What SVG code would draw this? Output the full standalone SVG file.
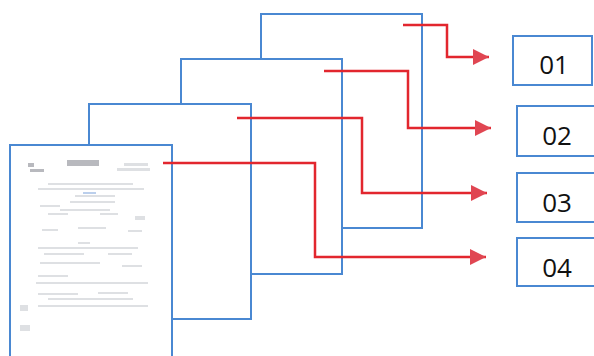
<svg xmlns="http://www.w3.org/2000/svg" width="594" height="356" viewBox="0 0 594 356">
  <defs>
    <style>
      .page { fill: #ffffff; stroke: #4a88d2; stroke-width: 2; }
      .box { fill: #ffffff; stroke: #4a88d2; stroke-width: 2; }
      .conn { fill: none; stroke: #e2262e; stroke-width: 2.5; marker-end: url(#arr); }
      .lbl { font-family: "Open Sans", "Liberation Sans", sans-serif; font-size: 26px; fill: #111111; text-anchor: middle; }
      .ink { fill: #c9ccd2; }
      .ink2 { fill: #8a8c94; }
    </style>
    <marker id="arr" viewBox="0 0 16 16" refX="16" refY="8" markerWidth="16" markerHeight="16" markerUnits="userSpaceOnUse" orient="auto">
      <path d="M0,0 L16,8 L0,16 Z" fill="#e04652"/>
    </marker>
  </defs>

  <g id="page4"><rect class="page" x="261" y="14" width="161" height="214"/></g>
  <g id="page3"><rect class="page" x="181" y="59" width="161" height="215"/></g>
  <g id="page2"><rect class="page" x="89" y="104" width="162" height="215"/></g>
  <g id="page1">
    <rect class="page" x="10" y="145" width="162" height="222"/>
    <g id="page1-content" opacity="0.6">
      <rect class="ink2" x="28" y="163" width="6" height="4"/>
      <rect class="ink2" x="30" y="169" width="14" height="3"/>
      <rect class="ink2" x="67" y="160" width="32" height="6"/>
      <rect class="ink" x="124" y="163" width="24" height="3"/>
      <rect class="ink" x="117" y="168" width="33" height="3"/>
      <rect class="ink" x="48" y="183" width="85" height="2"/>
      <rect class="ink" x="38" y="188" width="106" height="2"/>
      <rect fill="#8fb0e0" x="83" y="192" width="13" height="2"/>
      <rect class="ink" x="75" y="195" width="40" height="2"/>
      <rect class="ink" x="70" y="201" width="45" height="2"/>
      <rect class="ink" x="40" y="205" width="20" height="2"/>
      <rect class="ink" x="60" y="209" width="50" height="2"/>
      <rect class="ink" x="48" y="213" width="20" height="2"/>
      <rect class="ink" x="100" y="213" width="18" height="2"/>
      <rect class="ink" x="135" y="216" width="10" height="4"/>
      <rect class="ink" x="42" y="229" width="16" height="2"/>
      <rect class="ink" x="78" y="227" width="28" height="2"/>
      <rect class="ink" x="128" y="230" width="14" height="2"/>
      <rect class="ink" x="78" y="242" width="12" height="2"/>
      <rect class="ink" x="38" y="247" width="100" height="2"/>
      <rect class="ink" x="44" y="253" width="40" height="2"/>
      <rect class="ink" x="108" y="253" width="24" height="2"/>
      <rect class="ink" x="40" y="262" width="60" height="2"/>
      <rect class="ink" x="122" y="265" width="20" height="2"/>
      <rect class="ink" x="38" y="275" width="30" height="2"/>
      <rect class="ink" x="36" y="282" width="112" height="2"/>
      <rect class="ink" x="38" y="293" width="40" height="2"/>
      <rect class="ink" x="98" y="292" width="30" height="2"/>
      <rect class="ink" x="48" y="298" width="85" height="2"/>
      <rect class="ink" x="38" y="305" width="110" height="2"/>
      <rect class="ink" x="20" y="305" width="8" height="6"/>
      <rect class="ink" x="20" y="325" width="10" height="6"/>
    </g>
  </g>

  <g id="connectors">
    <polyline class="conn" points="403,25 447,25 447,57 489,57"/>
    <polyline class="conn" points="324,71 408,71 408,128 491,128"/>
    <polyline class="conn" points="237,118 362,118 362,193 487,193"/>
    <polyline class="conn" points="163,163 315,163 315,257 486,257"/>
  </g>

  <g id="box01">
    <rect class="box" x="513" y="36" width="79" height="49"/>
    <text class="lbl" x="554" y="74">01</text>
  </g>
  <g id="box02">
    <rect class="box" x="517" y="106" width="90" height="50"/>
    <text class="lbl" x="557" y="145">02</text>
  </g>
  <g id="box03">
    <rect class="box" x="517" y="173" width="90" height="49"/>
    <text class="lbl" x="557" y="212">03</text>
  </g>
  <g id="box04">
    <rect class="box" x="517" y="238" width="90" height="48"/>
    <text class="lbl" x="557" y="277">04</text>
  </g>
</svg>
